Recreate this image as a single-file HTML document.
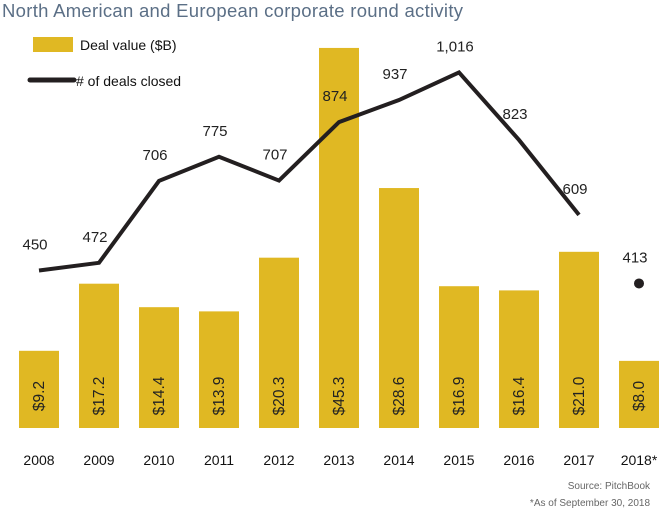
<!DOCTYPE html>
<html><head><meta charset="utf-8"><style>
body{margin:0;background:#fff;font-family:"Liberation Sans",sans-serif;}
svg{display:block}
</style></head><body>
<svg id="chart" width="671" height="511" xmlns="http://www.w3.org/2000/svg">
<text x="2" y="17" font-size="18.5" fill="#5b6f86" textLength="461">North American and European corporate round activity</text>
<rect x="33" y="37" width="40" height="15" fill="#e0b823"/>
<text x="80" y="50" font-size="14" fill="#111">Deal value ($B)</text>
<line x1="30" y1="80" x2="74" y2="80" stroke="#231f20" stroke-width="5" stroke-linecap="round"/>
<text x="76" y="86" font-size="14" fill="#111"># of deals closed</text>
<g id="bars"></g><g id="line"></g><g id="labels"></g>
<text x="650" y="489" font-size="10" fill="#666" text-anchor="end">Source: PitchBook</text>
<text x="650" y="506" font-size="10" fill="#666" text-anchor="end">*As of September 30, 2018</text>
</svg>
<script>
const years=["2008","2009","2010","2011","2012","2013","2014","2015","2016","2017","2018*"];
const dealValues=[9.2,17.2,14.4,13.9,20.3,45.3,28.6,16.9,16.4,21.0,8.0];
const dealCounts=[450,472,706,775,707,874,937,1016,823,609,413];
const countLabels=["450","472","706","775","707","874","937","1,016","823","609","413"];
const NS="http://www.w3.org/2000/svg";
const base=428;
function xc(i){return 39+60*i;}
function yv(v){return base-v*8.39;}
function yc(v){return base-v*0.35;}
function mk(t,a,p){const e=document.createElementNS(NS,t);for(const k in a)e.setAttribute(k,a[k]);p.appendChild(e);return e;}
const gb=document.getElementById('bars'),gl=document.getElementById('line'),gt=document.getElementById('labels');
dealValues.forEach((v,i)=>{
 const r=mk('rect',{x:xc(i)-20,y:yv(v),width:40,height:base-yv(v),fill:'#e0b823'},gb);
 
 
 const t=mk('text',{x:0,y:0,'font-size':15.5,fill:'#222','text-anchor':'middle',transform:`translate(${xc(i)+5},396) rotate(-90)`},gt);
 t.textContent='$'+v.toFixed(1);
 
 
 const xl=mk('text',{x:xc(i),y:465,'font-size':14,fill:'#111','text-anchor':'middle'},gt);
 xl.textContent=years[i];
 
 
});
const n=dealCounts.length-1;
let d='';
for(let i=0;i<n;i++)d+=(i?'L':'M')+xc(i)+','+yc(dealCounts[i]);
const p=mk('path',{d:d,fill:'none',stroke:'#231f20','stroke-width':4,'stroke-linejoin':'miter'},gl);


const dot=mk('circle',{cx:xc(n),cy:yc(dealCounts[n]),r:5,fill:'#231f20'},gl);


dealCounts.forEach((v,i)=>{
 const t=mk('text',{x:xc(i)-4,y:yc(v)-21,'font-size':15,fill:'#222','text-anchor':'middle'},gt);
 t.textContent=countLabels[i];
 
 
});
</script>
</body></html>
